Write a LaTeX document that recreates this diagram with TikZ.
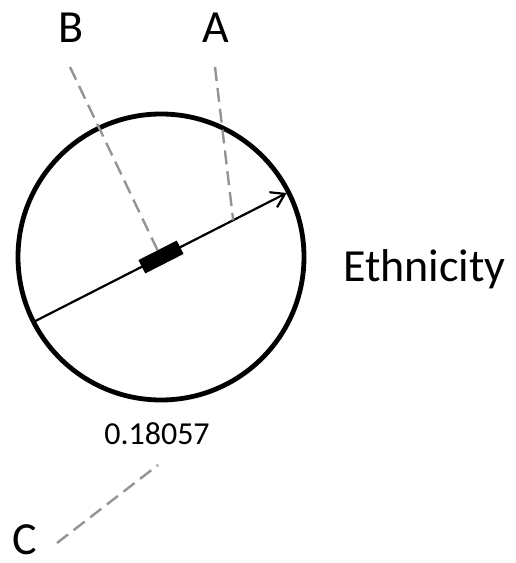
\documentclass[tikz,border=0pt]{standalone}
\usepackage{fontspec}
\setmainfont{Carlito}
\usetikzlibrary{arrows.meta,calc}

\begin{document}
\begin{tikzpicture}[x=1pt, y=1pt,
    lbl/.style={font=\fontsize{46}{50}\selectfont, inner sep=0pt, anchor=base},
    guide/.style={draw=black!42, line width=2.4pt, dash pattern=on 14pt off 7pt}]

  \useasboundingbox (0,0) rectangle (516,563);

  % circle and its diameter
  \coordinate (ctr) at (161,306);
  \draw[line width=4.8pt] (ctr) circle (143);
  \draw[line width=2.2pt, -{Straight Barb[length=13pt, width=17pt, line width=2.2pt]}]
    ($(ctr)+(207:143)$) -- ($(ctr)+(27:141)$);
  \node[fill=black, minimum width=43pt, minimum height=15pt, inner sep=0pt,
        rotate=27] (bar) at (ctr) {};
  \coordinate (onarrow) at ($(ctr)+(27:81)$);

  % labels
  \node[lbl] (B) at (71,520) {B};
  \node[lbl] (A) at (216,520) {A};
  \node[lbl] (C) at (25,9) {C};
  \node[lbl, anchor=base west] (eth) at (343,281) {Ethnicity};
  \node[font=\fontsize{32}{36}\selectfont, inner sep=0pt, anchor=base] (val) at (157,118) {0.18057};

  % dashed leaders
  \coordinate (Bend) at (70,496);
  \coordinate (Aend) at (215,496);
  \coordinate (Cend) at (57,20);
  \coordinate (valend) at (158,98);
  \draw[guide] (Bend) -- (bar.north);
  \draw[guide] (Aend) -- (onarrow);
  \draw[guide] (Cend) -- (valend);

\end{tikzpicture}
\end{document}
